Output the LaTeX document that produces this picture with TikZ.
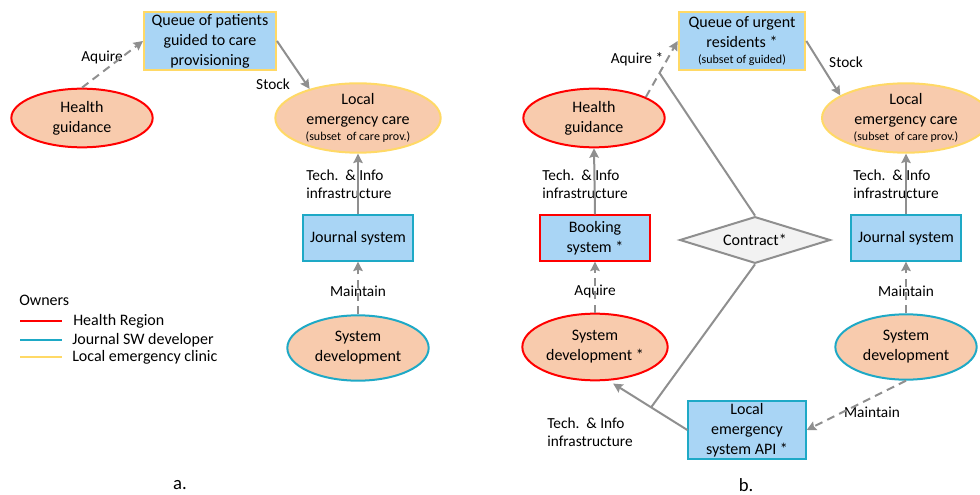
\documentclass[tikz,border=0pt]{standalone}
\usepackage{fontspec}
\setmainfont{Carlito}
\usetikzlibrary{shapes.geometric,arrows.meta}

\definecolor{hregion}{HTML}{FF0000}
\definecolor{jdev}{HTML}{1EA9C6}
\definecolor{lclinic}{HTML}{FFD966}
\definecolor{boxfill}{HTML}{A9D5F5}
\definecolor{actfill}{HTML}{F8CBAD}
\definecolor{linkgray}{HTML}{8F8F8F}
\definecolor{contractfill}{HTML}{F2F2F2}

\newcommand{\subfs}{\fontsize{9}{11}\selectfont}

\tikzset{
  txt/.style={font=\fontsize{12}{15}\selectfont, align=center},
  lbl/.style={font=\fontsize{11.5}{13.5}\selectfont, inner sep=0pt},
  activity/.style={txt, ellipse, draw, line width=1.5pt, fill=actfill, inner sep=0pt},
  sysbox/.style={txt, rectangle, draw, line width=1.5pt, fill=boxfill, inner sep=1pt},
  contract/.style={txt, diamond, draw=linkgray, line width=1.5pt, fill=contractfill,
    aspect=3.2, inner sep=0pt, minimum width=113pt, minimum height=35pt},
  link/.style={draw=linkgray, line width=1.5pt, -{Stealth[length=7pt,width=7pt,inset=1pt]}},
  dashlink/.style={link, dash pattern=on 6pt off 4pt},
  plain/.style={draw=linkgray, line width=1.5pt},
  owner/.style={line width=1.5pt}
}

\begin{document}
\begin{tikzpicture}[x=0.75pt, y=-0.75pt]
\useasboundingbox (0,0) rectangle (980,495);

% a. today
\node[sysbox, draw=lclinic, minimum width=99pt, minimum height=44pt] (qa) at (210,41)
  {Queue of patients\\guided to care\\provisioning};
\node[activity, draw=hregion, minimum width=106pt, minimum height=44pt] (hga) at (82,118)
  {Health\\guidance};
\node[activity, draw=lclinic, minimum width=124pt, minimum height=44pt] (lea) at (358,118)
  {Local\\emergency care\\[-3pt]{\subfs (subset\ \ of care prov.)}};
\node[sysbox, draw=jdev, minimum width=83pt, minimum height=34pt] (jsa) at (358,238)
  {Journal system};
\node[activity, draw=jdev, minimum width=106pt, minimum height=49pt] (sda) at (358,348)
  {System\\development};

\node[lbl] (aqa) at (102,57) {Aquire};
\node[lbl] (sta) at (273,84) {Stock};
\node[lbl, anchor=west, align=left] (tia) at (306,184) {Tech.\ \ \& Info\\infrastructure};
\node[lbl] (mta) at (358,291) {Maintain};

\draw[dashlink] (hga.north) -- (qa.west);
\draw[link] (qa.east) -- (lea.149);
\draw[link] (jsa.north) -- (lea.south);
\draw[dashlink] (sda.north) -- (jsa.south);

% owners
\node[txt, anchor=west, inner sep=0pt] (own) at (19,300) {Owners};
\draw[owner, hregion] (20,321) -- (62,321);
\draw[owner, jdev] (20,340) -- (62,340);
\draw[owner, lclinic] (20,357) -- (62,357);
\node[txt, anchor=west, inner sep=0pt] (ohr) at (73,321) {Health Region};
\node[txt, anchor=west, inner sep=0pt] (ojd) at (72,340) {Journal SW developer};
\node[txt, anchor=west, inner sep=0pt] (olc) at (72,357) {Local emergency clinic};

% b. proposal
\node[sysbox, draw=lclinic, minimum width=95pt, minimum height=44pt] (qb) at (742,41)
  {Queue of urgent\\residents *\\[-3pt]{\subfs (subset of guided)}};
\node[activity, draw=hregion, minimum width=106pt, minimum height=44pt] (hgb) at (594,118)
  {Health\\guidance};
\node[activity, draw=lclinic, minimum width=126pt, minimum height=44pt] (leb) at (906,118)
  {Local\\emergency care\\[-3pt]{\subfs (subset\ \ of care prov.)}};
\node[sysbox, draw=hregion, minimum width=83pt, minimum height=34pt] (bsb) at (595,238)
  {Booking\\system *};
\node[contract] (ctr) at (755,240) {Contract*};
\node[sysbox, draw=jdev, minimum width=83pt, minimum height=34pt] (jsb) at (906,238)
  {Journal system};
\node[activity, draw=hregion, minimum width=109pt, minimum height=50pt] (sdh) at (595,347)
  {System\\development *};
\node[activity, draw=jdev, minimum width=106pt, minimum height=49pt] (sdj) at (906,347)
  {System\\development};
\node[sysbox, draw=jdev, minimum width=88pt, minimum height=44pt] (api) at (747,430)
  {Local\\emergency\\system API *};

\node[lbl] (aqb) at (637,59) {Aquire *};
\node[lbl] (stb) at (846,62) {Stock};
\node[lbl, anchor=west, align=left] (tib) at (542,184) {Tech.\ \ \& Info\\infrastructure};
\node[lbl] (aqs) at (595,291) {Aquire};
\node[lbl, anchor=west, align=left] (tij) at (853,184) {Tech.\ \ \& Info\\infrastructure};
\node[lbl] (mtb) at (906,291) {Maintain};
\node[lbl, anchor=west, align=left] (tiapi) at (547,432) {Tech.\ \ \& Info\\infrastructure};
\node[lbl] (mtapi) at (872,412) {Maintain};

\draw[dashlink] (hgb.22) -- coordinate[pos=0.43] (cq) (qb.west);
\draw[link] (qb.east) -- (leb.161);
\draw[link] (bsb.north) -- (hgb.south);
\draw[dashlink] (sdh.north) -- (bsb.south);
\draw[link] (jsb.north) -- (leb.south);
\draw[dashlink] (sdj.north) -- (jsb.south);
\draw[link, shorten >=4pt] (api.west) -- coordinate[pos=0.46] (cj) (sdh.-68);
\draw[dashlink] (sdj.south) -- (api.east);
\draw[plain] (ctr.north) -- (cq);
\draw[plain] (ctr.south) -- (cj);

\node[font=\fontsize{14}{16}\selectfont] (capa) at (180,485) {a.};
\node[font=\fontsize{14}{16}\selectfont] (capb) at (746,485) {b.};
\end{tikzpicture}
\end{document}
